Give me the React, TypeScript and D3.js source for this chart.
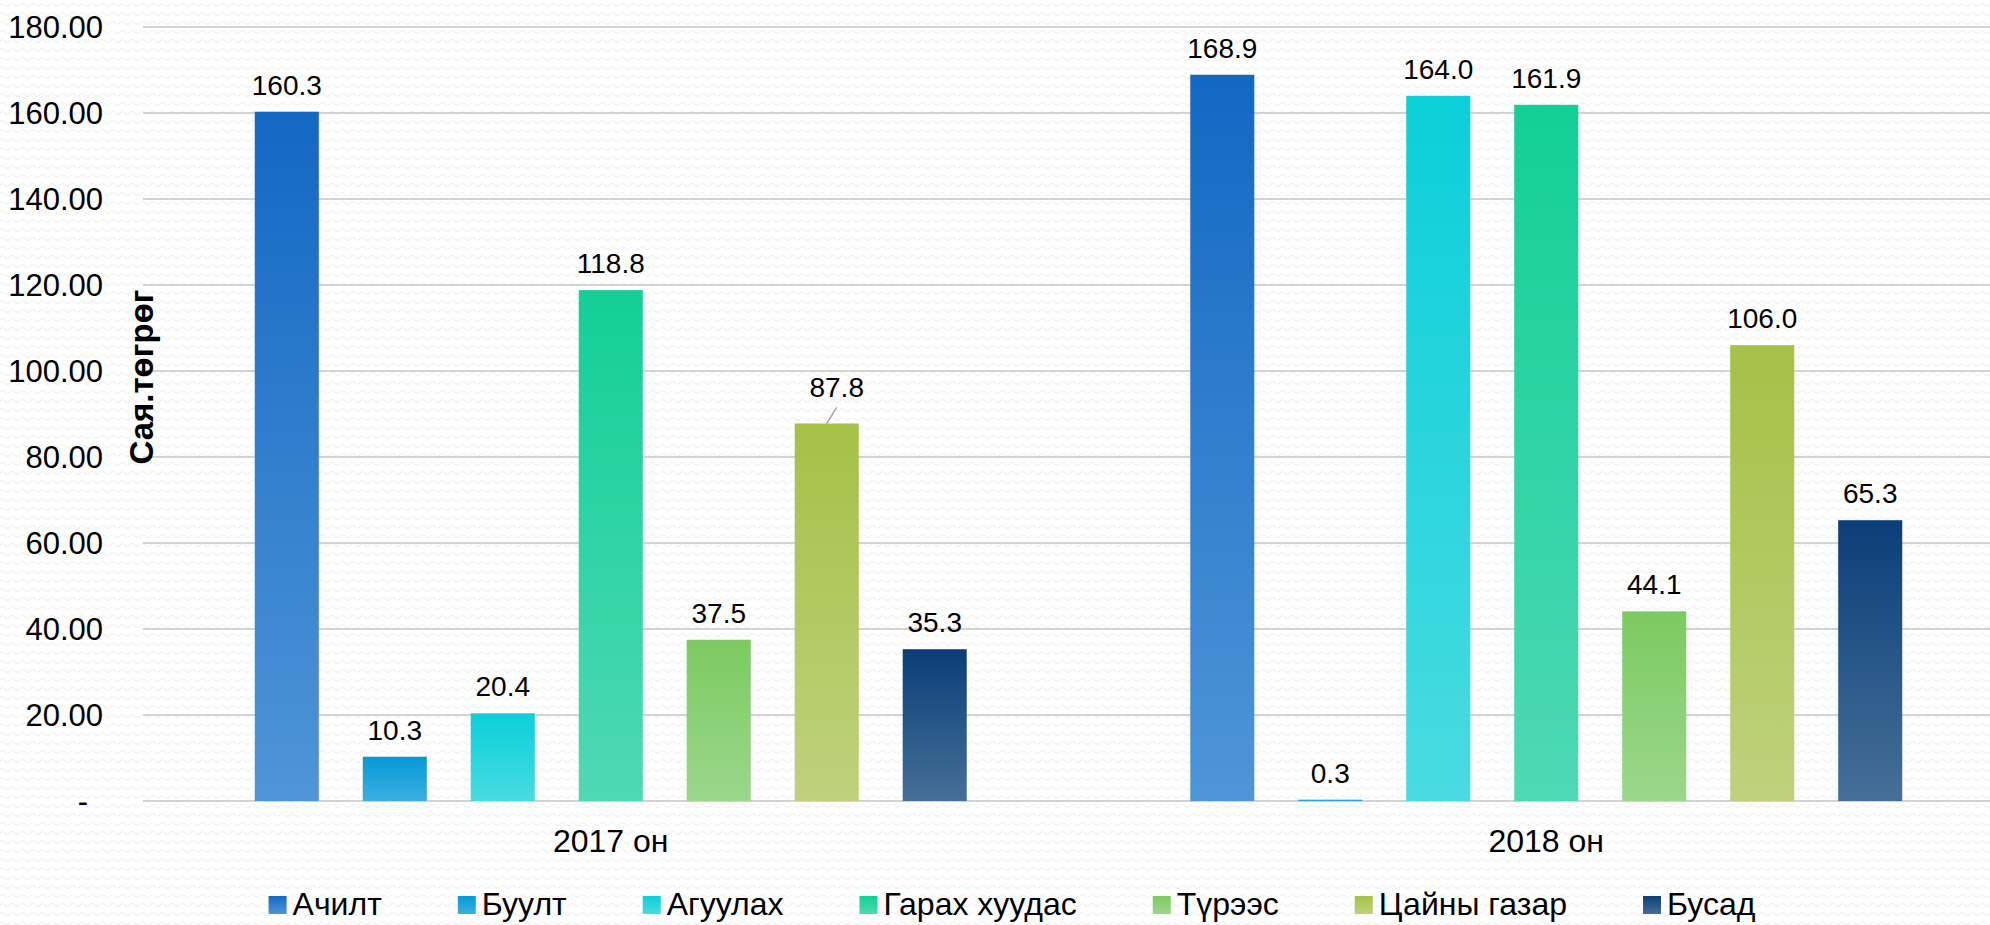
import { useEffect, useRef } from "react";
import * as d3 from "d3";

const years = ["2017 он", "2018 он"];
const seriesNames = [
  "Ачилт",
  "Буулт",
  "Агуулах",
  "Гарах хуудас",
  "Түрээс",
  "Цайны газар",
  "Бусад",
];
const values2017 = [160.3, 10.3, 20.4, 118.8, 37.5, 87.8, 35.3];
const values2018 = [168.9, 0.3, 164.0, 161.9, 44.1, 106.0, 65.3];
const yTicks = [0, 20, 40, 60, 80, 100, 120, 140, 160, 180];

// top / bottom colour of each bar gradient
const colorsTop = ["#1368c4", "#0898d6", "#0bcfd9", "#12cf97", "#7cca60", "#a5c147", "#0b3e78"];
const colorsBottom = ["#4f95d7", "#3bb0e1", "#49dbe1", "#4fd9b4", "#9bd78c", "#bfd17c", "#466f98"];

const W = 1990;
const H = 925;
const font = "'Liberation Sans', Arial, sans-serif";

function App() {
  const ref = useRef<SVGSVGElement | null>(null);

  useEffect(() => {
    const svg = d3.select(ref.current);
    svg.selectAll("*").remove();

    const rows = [values2017, values2018];
    const defs = svg.append("defs");

    // faint wavy background texture
    const pat = defs
      .append("pattern")
      .attr("id", "bgwave")
      .attr("width", 10)
      .attr("height", 9)
      .attr("patternUnits", "userSpaceOnUse");
    pat.append("rect").attr("width", 10).attr("height", 9).attr("fill", "#ffffff");
    pat
      .append("path")
      .attr("d", "M0 5 Q2.5 2 5 5 T10 5")
      .attr("fill", "none")
      .attr("stroke", "#f2f2f2")
      .attr("stroke-width", 1.2);

    seriesNames.forEach((s, i) => {
      const g = defs
        .append("linearGradient")
        .attr("id", "grad" + i)
        .attr("x1", 0)
        .attr("y1", 0)
        .attr("x2", 0)
        .attr("y2", 1);
      g.append("stop").attr("offset", "0%").attr("stop-color", colorsTop[i]);
      g.append("stop").attr("offset", "100%").attr("stop-color", colorsBottom[i]);
    });

    svg.append("rect").attr("width", W).attr("height", H).attr("fill", "url(#bgwave)");

    const left = 143;
    const right = 2014;
    const y = d3.scaleLinear().domain([0, 180]).range([801, 27]);
    const x0 = d3.scaleBand().domain(years).range([left, right]);
    const x1 = d3
      .scaleBand()
      .domain(seriesNames)
      .range([0, x0.bandwidth()])
      .paddingInner(0.407)
      .paddingOuter(1.035);

    // gridlines
    svg
      .append("g")
      .selectAll("line")
      .data(yTicks)
      .join("line")
      .attr("x1", left)
      .attr("x2", W)
      .attr("y1", (d) => y(d))
      .attr("y2", (d) => y(d))
      .attr("stroke", "#d3d3d3")
      .attr("stroke-width", 2);

    // y tick labels
    svg
      .append("g")
      .selectAll("text")
      .data(yTicks)
      .join("text")
      .attr("x", (d) => (d === 0 ? 88 : 103))
      .attr("y", (d) => y(d))
      .attr("dy", "0.36em")
      .attr("text-anchor", "end")
      .attr("font-family", font)
      .attr("font-size", 31)
      .attr("fill", "#000")
      .text((d) => (d === 0 ? "-" : d3.format(".2f")(d)));

    // axis title
    svg
      .append("text")
      .attr("transform", "translate(153,377) rotate(-90)")
      .attr("text-anchor", "middle")
      .attr("font-family", font)
      .attr("font-size", 33)
      .attr("font-weight", "bold")
      .text("Сая.төгрөг");

    // bars
    years.forEach((yr, gi) => {
      const g = svg.append("g").attr("transform", `translate(${x0(yr)},0)`);
      g.selectAll("rect")
        .data(rows[gi])
        .join("rect")
        .attr("x", (d, i) => x1(seriesNames[i]) as number)
        .attr("width", x1.bandwidth())
        .attr("y", (d) => y(d))
        .attr("height", (d) => y(0) - y(d))
        .attr("fill", (d, i) => `url(#grad${i})`);

      g.selectAll("text")
        .data(rows[gi])
        .join("text")
        .attr("x", (d, i) => (x1(seriesNames[i]) as number) + x1.bandwidth() / 2 + (gi === 0 && i === 5 ? 10 : 0))
        .attr("y", (d, i) => y(d) - 17 - (gi === 0 && i === 5 ? 9 : 0))
        .attr("text-anchor", "middle")
        .attr("font-family", font)
        .attr("font-size", 28)
        .attr("fill", "#000")
        .text((d) => d3.format(".1f")(d));

      // leader line for the moved label
      if (gi === 0) {
        const cx = (x1(seriesNames[5]) as number) + x1.bandwidth() / 2;
        g.append("line")
          .attr("x1", cx)
          .attr("y1", y(rows[gi][5]))
          .attr("x2", cx + 10)
          .attr("y2", y(rows[gi][5]) - 16)
          .attr("stroke", "#a6a6a6")
          .attr("stroke-width", 1.5);
      }

      svg
        .append("text")
        .attr("x", (x0(yr) as number) + x0.bandwidth() / 2)
        .attr("y", 852)
        .attr("text-anchor", "middle")
        .attr("font-family", font)
        .attr("font-size", 32)
        .text(yr);
    });

    // legend
    const lg = svg.append("g");
    const items = lg
      .selectAll("g")
      .data(seriesNames)
      .join("g");
    items
      .append("rect")
      .attr("y", 896)
      .attr("width", 18)
      .attr("height", 18)
      .attr("fill", (d, i) => `url(#grad${i})`);
    items
      .append("text")
      .attr("x", 24)
      .attr("y", 915)
      .attr("font-family", font)
      .attr("font-size", 32)
      .text((d) => d);

    let pos = 0;
    const offsets: number[] = [];
    items.each(function () {
      offsets.push(pos);
      const w = (d3.select(this).select("text").node() as SVGTextElement).getComputedTextLength();
      pos += 24 + w + 76;
    });
    const total = pos - 76;
    const start = 1012 - total / 2;
    items.attr("transform", (d, i) => `translate(${start + offsets[i]},0)`);
  }, []);

  return (
    <svg
      ref={ref}
      width={W}
      height={H}
      style={{ position: "absolute", left: 0, top: 0, display: "block" }}
    />
  );
}

export default App;
